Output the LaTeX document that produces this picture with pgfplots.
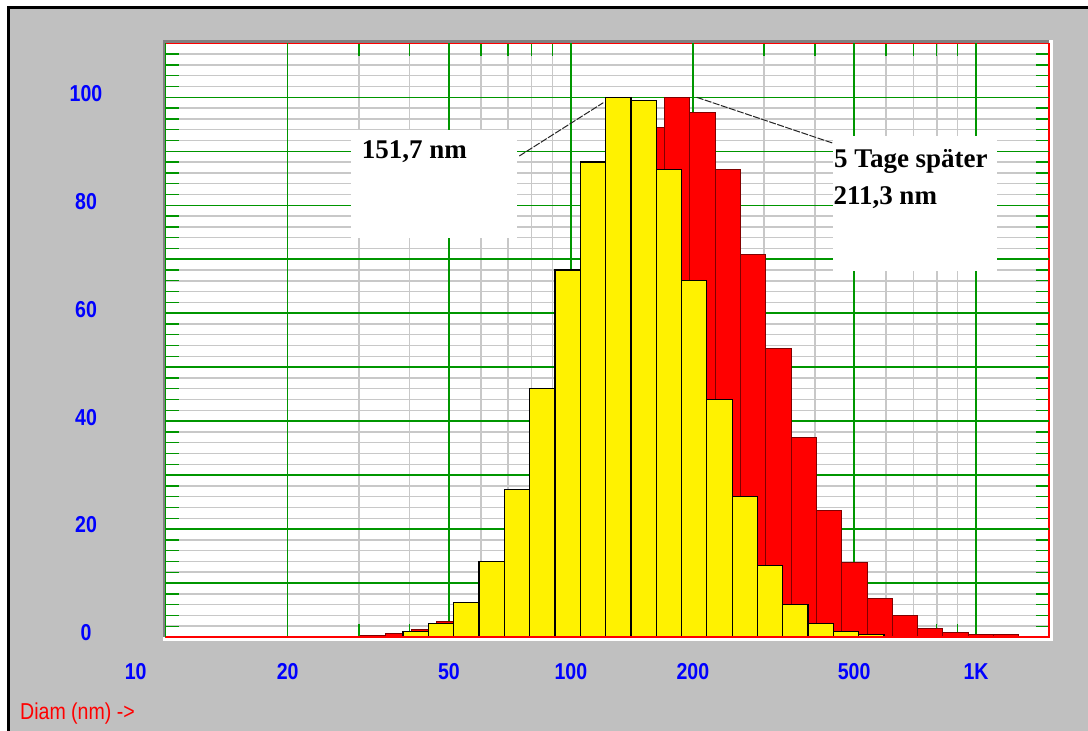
\documentclass[border=0pt]{standalone}
\usepackage{pgfplots}
\pgfplotsset{compat=1.18}
\usepackage{pgfplotstable}
\usepackage{fontspec}
\setmainfont{Liberation Sans}
\newfontfamily\tickfont[FakeStretch=0.85]{Liberation Sans}
\newfontfamily\annfont{Liberation Serif}
\definecolor{bgray}{RGB}{192,192,192}
\definecolor{dgray}{RGB}{128,128,128}
\definecolor{ggreen}{RGB}{0,150,0}
\definecolor{lgray}{RGB}{200,200,200}
\definecolor{dred}{RGB}{128,0,0}

% bin edges (nm) and heights; last row closes the last bin
\pgfplotstableread{
x y
30.27 0.3
34.95 0.7
40.36 1.4
46.61 2.9
53.82 6
62.15 12
71.77 21
82.88 35
95.71 51
110.52 68
127.62 84
147.37 94.4
170.18 100
196.52 97.1
226.94 86.6
262.06 70.9
302.62 53.4
349.46 36.9
403.55 23.4
466.01 13.8
538.14 7.2
621.43 3.9
717.61 1.6
828.68 0.8
956.94 0.45
1105.05 0.45
1276.09 0
}\reddata

\pgfplotstableread{
x y
38.51 1.0
44.47 2.5
51.35 6.4
59.30 14.0
68.48 27.3
79.08 46.0
91.32 68.0
105.45 88.0
121.78 100.0
140.63 99.4
162.39 86.6
187.53 66.1
216.55 44.0
250.07 26.0
288.78 13.2
333.48 6.0
385.09 2.5
444.70 1.0
513.53 0.4
593.02 0
}\yellowdata

\begin{document}
\begin{tikzpicture}
\fill[white] (0,0) rectangle (1088bp,731bp);
\fill[black] (6.7bp,0) rectangle (1088bp,725bp);
\fill[bgray] (10bp,0) rectangle (1088bp,721.7bp);
\fill[white] (163bp,90bp) rectangle (1053bp,691bp);
\fill[dgray] (163bp,94bp) rectangle (1049bp,691bp);
\begin{axis}[
  at={(165.7bp,94bp)}, anchor=south west,
  scale only axis, width=883.3bp, height=593.7bp,
  xmode=log, xmin=10, xmax=1514, ymin=0, ymax=110,
  axis background/.style={fill=white},
  axis line style={draw=red, line width=1.3bp},
  xtick={20,50,100,200,500,1000},
  xticklabels={20,50,100,200,500,1K},
  minor xtick={30,40,60,70,80,90,300,400,600,700,800,900},
  extra x ticks={10}, extra x tick labels={10},
  extra x tick style={xticklabel style={xshift=-30bp}},
  ytick={0,10,...,110},
  yticklabels={0,,20,,40,,60,,80,,100,},
  minor y tick num=4,
  grid=both,
  major grid style={draw=ggreen, line width=1.4bp},
  minor grid style={draw=lgray, line width=1.5bp},
  major tick length=0pt,
  minor tick length=13bp,
  tick align=inside,
  minor tick style={draw=ggreen, line width=1.4bp},
  tick label style={font=\tickfont\bfseries\fontsize{23bp}{23bp}\selectfont, text=blue, inner sep=0pt},
  xticklabel style={anchor=center, yshift=-34.5bp},
  yticklabel style={anchor=center, xshift=-79.7bp, yshift=4bp},
]
% major grid lines redrawn over the minor ones
\pgfplotsinvokeforeach{20,50,100,200,500,1000}{
  \draw[ggreen, line width=1.4bp] (axis cs:#1,0) -- (axis cs:#1,110);
}
\pgfplotsinvokeforeach{10,20,30,40,50,60,70,80,90,100}{
  \draw[ggreen, line width=1.4bp] (axis cs:10,#1) -- (axis cs:1514,#1);
}
\addplot[ybar interval, fill=red, draw=dred, line width=1bp] table[x=x,y=y] {\reddata};
\addplot[ybar interval, fill=yellow, draw=black, line width=1.3bp] table[x=x,y=y] {\yellowdata};
\end{axis}
\draw[red, line width=1.3bp] (165.7bp,94bp) -- (1049bp,94bp);
% annotation boxes
\fill[white] (350.7bp,493bp) rectangle (517.3bp,601bp);
\fill[white] (833.3bp,460bp) rectangle (996.7bp,595bp);
\draw[black!85, line width=1bp, dash pattern=on 7bp off 1.5bp] (519.3bp,575bp) -- (603.3bp,628.3bp);
\draw[black!85, line width=1bp, dash pattern=on 7bp off 1.5bp] (696.7bp,633.7bp) -- (833.3bp,587.7bp);
\node[anchor=base west, inner sep=0pt, font=\annfont\bfseries\fontsize{27bp}{27bp}\selectfont] at (361.7bp,572bp) {151,7 nm};
\node[anchor=base west, inner sep=0pt, font=\annfont\bfseries\fontsize{27bp}{27bp}\selectfont] at (834bp,563.7bp) {5 Tage später};
\node[anchor=base west, inner sep=0pt, font=\annfont\bfseries\fontsize{27bp}{27bp}\selectfont] at (833.3bp,526.7bp) {211,3 nm};
\node[anchor=west, inner sep=0pt, text=red, font=\tickfont\fontsize{23bp}{23bp}\selectfont] at (20bp,17bp) {Diam (nm) ->};
\pgfresetboundingbox
\path[use as bounding box] (0,0) rectangle (1088bp,731bp);
\end{tikzpicture}
\end{document}
